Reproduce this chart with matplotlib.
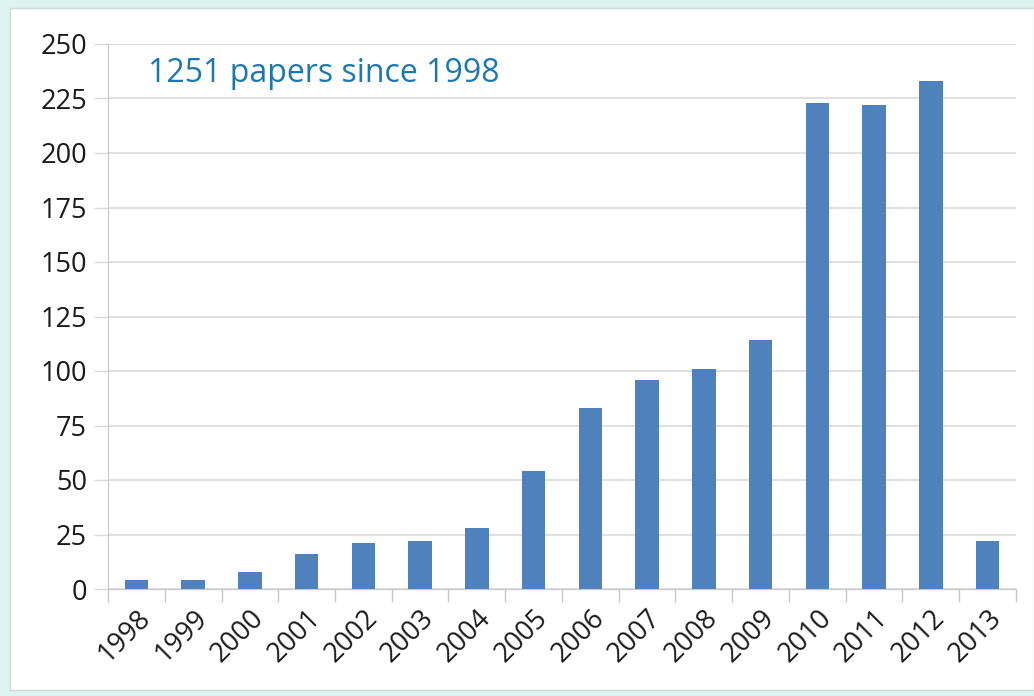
import matplotlib
matplotlib.use("Agg")
import matplotlib.pyplot as plt
from matplotlib.patches import Rectangle

years = ["1998", "1999", "2000", "2001", "2002", "2003", "2004", "2005",
         "2006", "2007", "2008", "2009", "2010", "2011", "2012", "2013"]
papers = [4, 4, 8, 16, 21, 22, 28, 54, 83, 96, 101, 114, 223, 222, 233, 22]
yticks = [0, 25, 50, 75, 100, 125, 150, 175, 200, 225, 250]
note = "1251 papers since 1998"

plt.rcParams['font.family'] = ['Open Sans', 'DejaVu Sans']

W, H = 1034, 696
fig = plt.figure(figsize=(W / 100, H / 100), dpi=100)
fig.patch.set_facecolor('#dcf4f0')

# white inner panel drawn in a background axes
bg = fig.add_axes([0, 0, 1, 1], zorder=-5)
bg.set_xlim(0, W)
bg.set_ylim(H, 0)
bg.axis('off')
bg.add_patch(Rectangle((10, 8), W - 10, 682, facecolor='white',
                       edgecolor='#d0d8d6', linewidth=1.0))

left, right, top, bottom = 108, 1016, 44, 589
ax = fig.add_axes([left / W, 1 - bottom / H, (right - left) / W, (bottom - top) / H])
ax.set_facecolor('none')

x = list(range(len(years)))
ax.bar(x, papers, width=0.41, color='#4f81bd', zorder=3)
ax.set_xlim(-0.5, len(years) - 0.5)
ax.set_ylim(0, 250)
ax.set_yticks(yticks)
ax.set_yticklabels([str(v) for v in yticks], fontsize=19.5, color='#1a1a1a')
ax.set_xticks(x)
ax.set_xticklabels(years, rotation=45, ha='right', rotation_mode='anchor',
                   fontsize=19.5, color='#1a1a1a')
ax.tick_params(axis='x', length=0, pad=11)
ax.set_xticks([i - 0.5 for i in range(len(years) + 1)], minor=True)
ax.tick_params(axis='x', which='minor', length=9, color='#c8c8c8', width=1)
ax.tick_params(axis='y', length=10, color='#d9d9d9', width=1, pad=5)
ax.grid(axis='y', color='#d9d9d9', linewidth=1.2, zorder=0)
for s in ['top', 'right']:
    ax.spines[s].set_visible(False)
ax.spines['left'].set_color('#c8c8c8')
ax.spines['bottom'].set_color('#c8c8c8')

ax.text(0.044, 0.945, note, transform=ax.transAxes, fontsize=23,
        color='#1a78ad', ha='left', va='center')

fig.savefig("out.png", dpi=100, facecolor=fig.get_facecolor())
